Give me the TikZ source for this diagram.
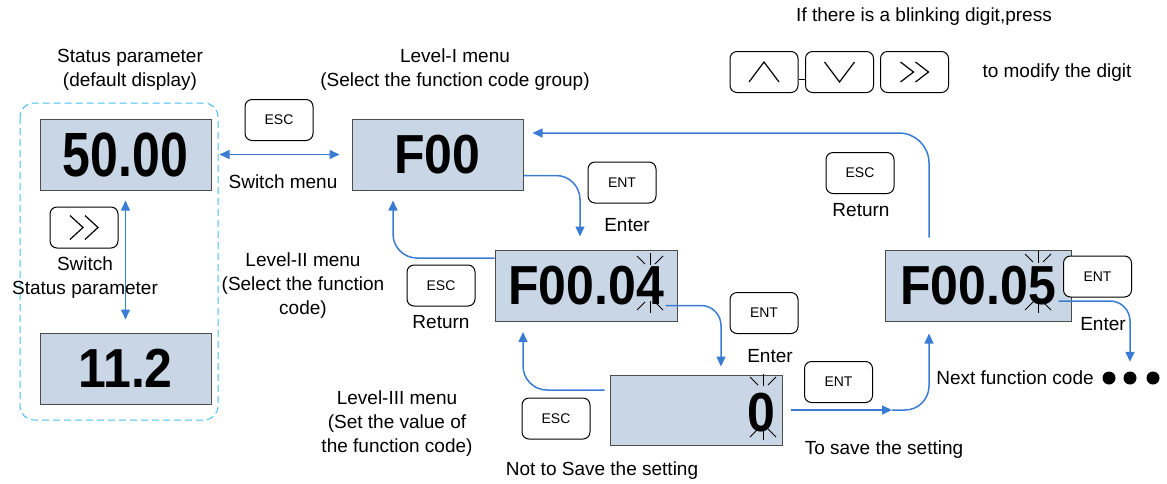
\documentclass[tikz,border=0pt]{standalone}
\usepackage{fontspec}
\setmainfont{Liberation Sans}
\usetikzlibrary{arrows.meta,positioning}
\definecolor{lcdblue}{RGB}{200,214,230}
\definecolor{flowblue}{RGB}{58,124,212}
\definecolor{groupcyan}{RGB}{70,190,240}
\newcommand{\lblfont}{\fontsize{19}{24}\selectfont}
\newcommand{\keyfont}{\fontsize{14}{16}\selectfont}
\newcommand{\lcdfont}{\fontsize{50}{50}\selectfont\bfseries}
\newcommand{\lcdtext}[2][1.1]{\scalebox{1}[#1]{#2}}
% blinking marks round a digit: centre x, top y, bottom y
\newcommand{\blink}[3]{%
  \draw[blinkline] (#1,#2) -- ++(0,12);
  \draw[blinkline] ({#1-13},{#2+3}) -- ++(8,8);
  \draw[blinkline] ({#1+13},{#2+3}) -- ++(-8,8);
  \draw[blinkline] (#1,#3) -- ++(0,-12);
  \draw[blinkline] ({#1-13},{#3-3}) -- ++(8,-8);
  \draw[blinkline] ({#1+13},{#3-3}) -- ++(-8,-8);
}
\tikzset{
  lcd/.style={
    draw=black!70,
    line width=1pt,
    fill=lcdblue,
    minimum width=171pt,
    minimum height=71pt,
    inner sep=0pt,
    font=\lcdfont
  },
  key/.style={
    draw,
    line width=1pt,
    rounded corners=7pt,
    fill=white,
    minimum width=68pt,
    minimum height=41pt,
    inner sep=0pt,
    font=\keyfont
  },
  lbl/.style={font=\lblfont, align=center, inner sep=0pt},
  glyph/.style={line width=1.2pt},
  blinkline/.style={line width=1pt},
  dotmark/.style={circle, fill, inner sep=0pt, minimum size=13pt},
  flow/.style={draw=flowblue, line width=1.5pt, -{Triangle[length=10pt,width=9pt]}, rounded corners=24pt},
  biflow/.style={draw=flowblue, line width=1.5pt, {Triangle[length=10pt,width=9pt]}-{Triangle[length=10pt,width=9pt]}},
}
\begin{document}
\begin{tikzpicture}[x=1pt,y=-1pt]
\useasboundingbox (0,0) rectangle (1167,483);

% Status parameter group
\node[lbl] (statlbl) at (130,70) {Status parameter\\(default display)};
\draw[groupcyan, line width=1pt, dash pattern=on 7pt off 4pt, rounded corners=14pt] (20,103) rectangle (218,420);
\node[lcd] (s50) at (125.5,154.5) {\lcdtext[1.25]{50.00}};
\node[lcd] (s112) at (125.5,368.5) {\lcdtext{11.2}};
\node[key] (shiftkey) at (84,227.5) {};
\draw[glyph] ([shift={(-14,-12)}]shiftkey.center) -- ++(13,12) -- ++(-13,12);
\draw[glyph] ([shift={(1,-12)}]shiftkey.center) -- ++(13,12) -- ++(-13,12);
\node[lbl] (switchlbl) at (85,277.5) {Switch\\Status parameter};
\draw[biflow] ([yshift=-10pt]s50.south) -- ([yshift=13pt]s112.north);

% Level-I menu
\node[lbl] (lvl1) at (455,69.5) {Level-I menu\\(Select the function code group)};
\node[lcd] (f00) at (437.5,154.5) {\lcdtext{F00}};
\node[key] (esc1) at (279,120) {ESC};
\node[lbl] (switchmenu) at (283,182) {Switch menu};
\draw[biflow] ([xshift=8pt]s50.east) -- ([xshift=-12pt]f00.west);

% Level-II menu
\node[lbl] (lvl2) at (303,286) {Level-II menu\\(Select the function\\code)};
\node[lcd, minimum width=182pt] (f004) at (586,285.5) {\lcdtext{F00.04}};
\blink{650}{253}{313}
\node[key] (ent1) at (622,182.5) {ENT};
\node[lbl] (enter1) at (627,225) {Enter};
\node[key] (esc2) at (441,285.5) {ESC};
\node[lbl] (return2) at (441,322) {Return};
\draw[flow] ([yshift=-21pt]f00.east) -| ([xshift=-6pt,yshift=13pt]f004.north);
\draw[flow] ([yshift=27.5pt]f004.west) -| ([xshift=-44.5pt,yshift=-10pt]f00.south);

% Level-III menu
\node[lbl] (lvl3) at (397,424) {Level-III menu\\(Set the value of\\the function code)};
\node[lcd, minimum width=172pt, minimum height=70pt] (zero) at (696,410) {};
\node[font=\lcdfont, inner sep=0pt] (zerodigit) at (761,413) {\lcdtext{0}};
\blink{763}{374}{440}
\node[key] (ent2) at (764,313) {ENT};
\node[lbl] (enter2) at (770,356) {Enter};
\node[key] (esc3) at (556,418.5) {ESC};
\node[lbl] (nosave) at (602,471) {Not to Save the setting};
\draw[flow, rounded corners=20pt] ([xshift=-12pt,yshift=-20pt]f004.east) -| ([xshift=25pt,yshift=8pt]zero.north);
\draw[flow] ([xshift=-5pt,yshift=20pt]zero.west) -| ([xshift=-63pt,yshift=-10.5pt]f004.south);

% Save and next function code
\node[key] (ent3) at (838.5,382) {ENT};
\node[lbl] (savelbl) at (884,450) {To save the setting};
\node[lcd, minimum width=186pt] (f005) at (978,285.5) {\lcdtext{F00.05}};
\blink{1038}{251}{313}
\node[key] (ent4) at (1097.5,276.5) {ENT};
\node[lbl] (enter4) at (1103,324) {Enter};
\node[key] (esc4) at (860,173) {ESC};
\node[lbl] (return4) at (861,210) {Return};
\coordinate (savemid) at (892,410);
\draw[flow] ([xshift=8pt]zero.east) -- (savemid);
\draw[flow] (savemid) -| ([xshift=-49pt,yshift=-12pt]f005.south);
\draw[flow, rounded corners=30pt] ([xshift=-49pt,yshift=12pt]f005.north) |- ([xshift=9pt,yshift=21.5pt]f00.east);
\node[lbl] (nextlbl) at (1015,378) {Next function code};
\foreach \i/\xx in {1/1109,2/1130,3/1153}
  \node[dotmark] (dot\i) at (\xx,378) {};
\draw[flow, rounded corners=20pt] ([xshift=-13pt,yshift=-15.5pt]f005.east) -| ([yshift=9.5pt]dot2.north);

% Digit keys
\node[lbl] (blinklbl) at (924,17) {If there is a blinking digit,press};
\node[key] (keyup) at (764,72) {};
\node[key] (keydown) at (839.5,72) {};
\node[key] (keyright) at (914.5,72) {};
\draw[line width=1pt] ([yshift=-7pt]keyup.east) -- ([yshift=-7pt]keydown.west);
\draw[glyph] ([shift={(-15,10)}]keyup.center) -- ++(15,-20) -- ++(15,20);
\draw[glyph] ([shift={(-15,-10)}]keydown.center) -- ++(15,20) -- ++(15,-20);
\draw[glyph] ([shift={(-14,-10)}]keyright.center) -- ++(13,10) -- ++(-13,10);
\draw[glyph] ([shift={(1,-10)}]keyright.center) -- ++(13,10) -- ++(-13,10);
\node[lbl] (modifylbl) at (1057,73) {to modify the digit};

\end{tikzpicture}
\end{document}
